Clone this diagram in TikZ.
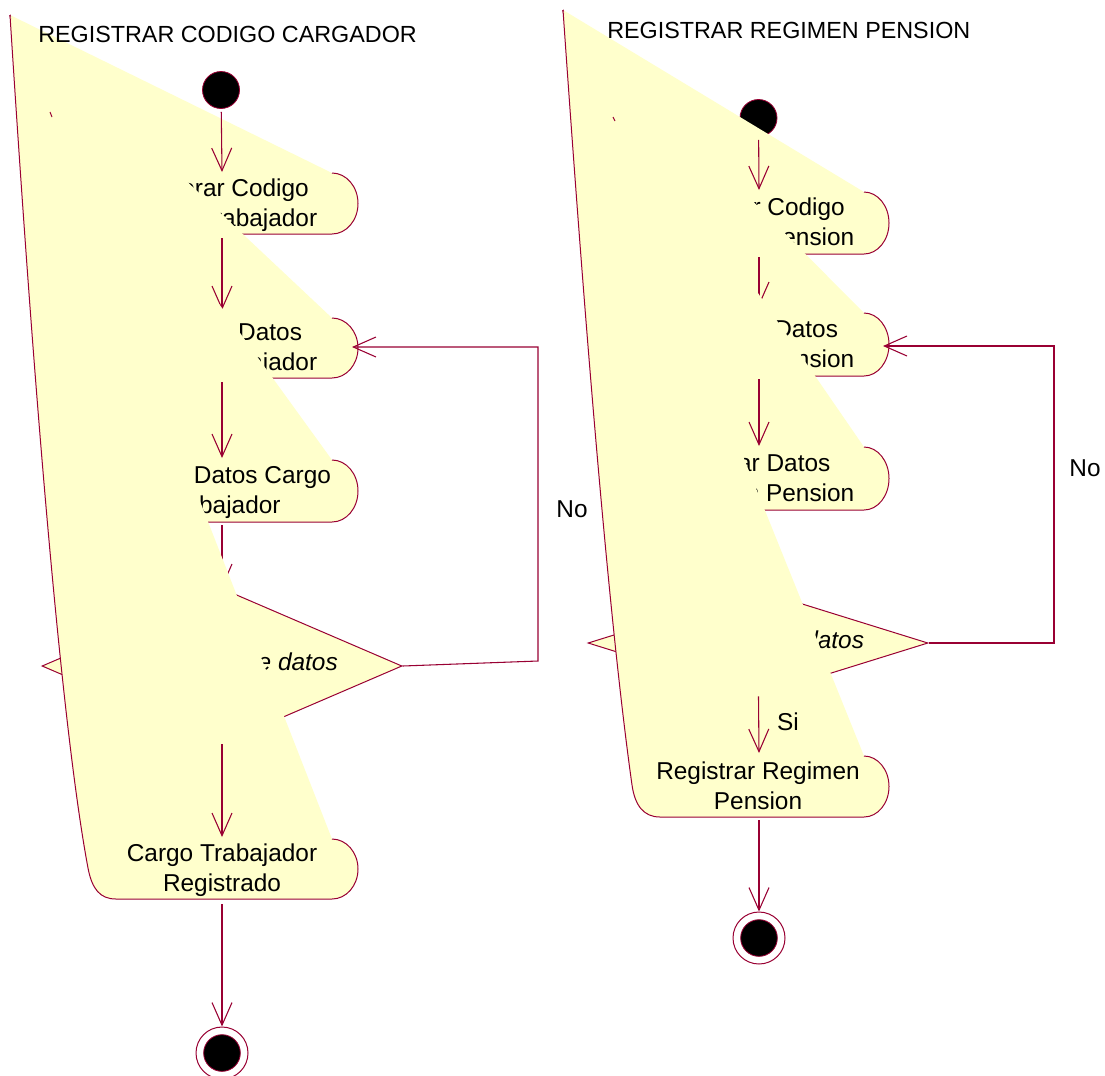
\documentclass[tikz,border=0pt]{standalone}
\usepackage{fontspec}
\setmainfont{Liberation Sans}
\usetikzlibrary{arrows.meta,shapes.geometric}
\definecolor{rosefill}{HTML}{FFFFCC}
\definecolor{roseline}{HTML}{990033}

% Activity outline: apex, right x, top, bottom, bulge, rest of outline (bottom edge, left side back to apex)
\newcommand\actbox[6]{%
  \fill[actfill] (#1) -- (#2,#3)
    .. controls ({#2+0.552*#5},#3) and ({#2+#5},{#3+0.224*(#4-#3)})
    .. ({#2+#5},{(#3+#4)/2})
    .. controls ({#2+#5},{#4-0.224*(#4-#3)}) and ({#2+0.552*#5},#4)
    .. (#2,#4) #6 -- cycle;
  \draw[actline] (#2,#3)
    .. controls ({#2+0.552*#5},#3) and ({#2+#5},{#3+0.224*(#4-#3)})
    .. ({#2+#5},{(#3+#4)/2})
    .. controls ({#2+#5},{#4-0.224*(#4-#3)}) and ({#2+0.552*#5},#4)
    .. (#2,#4) #6;
}
% Two-line activity label: name, x, middle y of the activity, line 1, line 2
\newcommand\actlabel[5]{%
  \node[acttext] (#1a) at (#2,{#3-7.5}) {#4};
  \node[acttext] (#1b) at (#2,{#3+22.5}) {#5};
}

\begin{document}
\begin{tikzpicture}[x=0.75pt,y=-0.75pt,
  actfill/.style={fill=rosefill},
  actline/.style={draw=roseline, line width=0.75pt},
  acttext/.style={font=\fontsize{18.3}{22}\selectfont, inner sep=0pt, anchor=base, text=black},
  titletext/.style={font=\fontsize{17.5}{21}\selectfont, inner sep=0pt, anchor=base west, text=black},
  flow/.style={draw=roseline, line width=0.8pt, -{Straight Barb[length=17pt,width=15pt]}},
  startdot/.style={circle, fill=black, draw=roseline, line width=0.6pt, minimum size=27.75pt, inner sep=0pt},
  endring/.style={circle, draw=roseline, line width=0.75pt, minimum size=39pt, inner sep=0pt},
  enddot/.style={circle, fill=black, draw=roseline, line width=0.6pt, minimum size=27.5pt, inner sep=0pt},
  decision/.style={diamond, fill=rosefill, draw=roseline, line width=0.75pt, inner sep=0pt}]

\fill[white] (0,0) rectangle (1105,1075);
\useasboundingbox (0,0) rectangle (1105,1075);

% ---------------- REGISTRAR CODIGO CARGADOR ----------------
\coordinate (A1) at (10,15);
\coordinate (L1in) at (222,172);
\coordinate (L1out) at (222,238);
\coordinate (L2in) at (222,310);
\coordinate (L2out) at (222,382);
\coordinate (L2loop) at (352,347);
\coordinate (L3in) at (222,458);
\coordinate (L3out) at (222,525);
\coordinate (L5in) at (222,837);
\coordinate (L5out) at (222,904);
\coordinate (LoopLa) at (538,661);
\coordinate (LoopLb) at (538,347);
\coordinate (TickLa) at (50,112);
\coordinate (TickLb) at (52,117);

\node[startdot] (SL) at (221,90) {};

\actbox{A1}{332}{173}{234}{26}{-- (112,234) .. controls (98,234) and (86,223) .. (86,209) -- (A1)}
\actlabel{L1}{222}{203.5}{Generar Codigo}{Cargo Trabajador}
\draw[flow, shorten <=2.25pt] (SL) -- (L1in);

\actbox{A1}{332}{318}{378}{26}{-- (112,378) .. controls (98,378) and (86,367) .. (86,353) -- (A1)}
\actlabel{L2}{222}{348}{Ingresar Datos}{Cargo Trabajador}
\draw[flow] (L1out) -- (L2in);

\actbox{A1}{332}{460}{522}{26}{-- (112,522) .. controls (98,522) and (86,511) .. (86,497) -- (A1)}
\actlabel{L3}{222}{491}{Validar Datos Cargo}{Trabajador}
\draw[flow] (L2out) -- (L3in);

\node[decision, minimum width=270pt, minimum height=116.25pt] (DL) at (222,666) {};
\node[acttext, font=\fontsize{18.3}{22}\selectfont\itshape] (DLt) at (225,670) {Verificacion de datos};
\draw[flow] (L3out) -- (DL);

\actbox{A1}{332}{839}{899}{26}{-- (116,899) .. controls (100,899) and (92,889) .. (88,868) .. controls (64,740) and (37,440) .. (A1)}
\actlabel{L5}{222}{869}{Cargo Trabajador}{Registrado}
\draw[flow] (DL) -- (L5in);

\draw[flow] (DL.east) -- (LoopLa) -- (LoopLb) -- (L2loop);
\node[acttext] (NoL) at (572,517) {No};

\node[endring] (EL) at (222,1053) {};
\node[enddot] (ELc) at (EL.center) {};
\draw[flow] (L5out) -- (EL);
\draw[actline] (TickLa) -- (TickLb);

\node[titletext] (TL) at (38,42) {REGISTRAR CODIGO CARGADOR};

% ---------------- REGISTRAR REGIMEN PENSION ----------------
\coordinate (A2) at (563,10);
\coordinate (R1in) at (759,190);
\coordinate (R1out) at (759,257);
\coordinate (R2in) at (759,306);
\coordinate (R2out) at (759,379);
\coordinate (R2loop) at (883,346);
\coordinate (R3in) at (759,446);
\coordinate (R3out) at (759,513);
\coordinate (R5in) at (759,753);
\coordinate (R5out) at (759,820);
\coordinate (LoopRa) at (1054,643);
\coordinate (LoopRb) at (1054,346);
\coordinate (TickRa) at (613,117);
\coordinate (TickRb) at (615,121);

\node[startdot] (SR) at (758.5,118) {};

\actbox{A2}{864}{192}{254}{25}{-- (655,254) .. controls (641,254) and (630,243) .. (630,229) -- (A2)}
\actlabel{R1}{758}{223}{Generar Codigo}{Regimen Pension}
\draw[flow, shorten <=2.25pt] (SR) -- (R1in);

\actbox{A2}{864}{313}{376}{25}{-- (655,376) .. controls (641,376) and (630,365) .. (630,351) -- (A2)}
\actlabel{R2}{758}{344.5}{Ingresar Datos}{Regimen Pension}
\draw[flow] (R1out) -- (R2in);

\actbox{A2}{864}{447}{510}{25}{-- (655,510) .. controls (641,510) and (630,499) .. (630,485) -- (A2)}
\actlabel{R3}{758}{478.5}{Validar Datos}{Regimen Pension}
\draw[flow] (R2out) -- (R3in);

\node[decision, minimum width=255pt, minimum height=79.5pt] (DR) at (758,643) {};
\node[acttext, font=\fontsize{18.3}{22}\selectfont\itshape] (DRt) at (758,648) {Validacion de datos};
\draw[flow] (R3out) -- (DR);

\actbox{A2}{864}{756}{817}{25}{-- (660,817) .. controls (644,817) and (635,806) .. (632,785) .. controls (613,650) and (590,400) .. (A2)}
\actlabel{R5}{758}{786.5}{Registrar Regimen}{Pension}
\draw[flow] (DR) -- (R5in);
\node[acttext] (SiR) at (788,730) {Si};

\draw[flow] (DR.east) -- (LoopRa) -- (LoopRb) -- (R2loop);
\node[acttext] (NoR) at (1085,476) {No};

\node[endring] (ER) at (759,938) {};
\node[enddot] (ERc) at (ER.center) {};
\draw[flow] (R5out) -- (ER);
\draw[actline] (TickRa) -- (TickRb);

\node[titletext] (TR) at (607,38) {REGISTRAR REGIMEN PENSION};

\end{tikzpicture}
\end{document}
